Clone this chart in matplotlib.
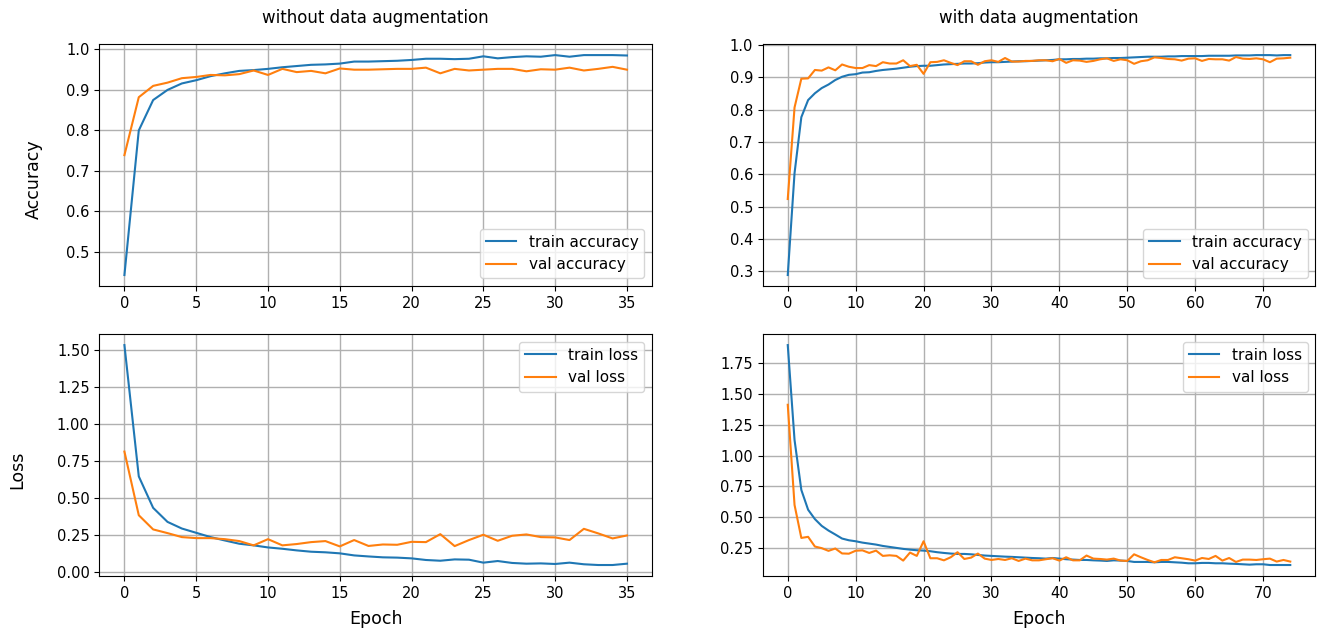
import numpy as np
import matplotlib
matplotlib.use("Agg")
import matplotlib.pyplot as plt

# ---- without augmentation (36 epochs) ----
acc_noaug = [0.443, 0.800, 0.875, 0.900, 0.916, 0.924, 0.934, 0.941, 0.947, 0.949,
             0.952, 0.956, 0.959, 0.962, 0.963, 0.965, 0.970, 0.970, 0.971, 0.972,
             0.974, 0.977, 0.977, 0.976, 0.977, 0.983, 0.978, 0.981, 0.983, 0.982,
             0.986, 0.982, 0.986, 0.986, 0.986, 0.985]
val_acc_noaug = [0.739, 0.882, 0.910, 0.918, 0.929, 0.932, 0.937, 0.936, 0.939, 0.948,
                 0.937, 0.952, 0.944, 0.947, 0.941, 0.953, 0.950, 0.950, 0.951, 0.952,
                 0.952, 0.955, 0.941, 0.952, 0.948, 0.950, 0.952, 0.952, 0.946, 0.951,
                 0.950, 0.955, 0.948, 0.952, 0.957, 0.950]
loss_noaug = [1.536, 0.647, 0.434, 0.339, 0.294, 0.265, 0.236, 0.213, 0.191, 0.180,
              0.166, 0.157, 0.146, 0.137, 0.133, 0.126, 0.112, 0.105, 0.099, 0.097,
              0.092, 0.081, 0.076, 0.085, 0.083, 0.063, 0.074, 0.061, 0.056, 0.058,
              0.054, 0.063, 0.052, 0.047, 0.047, 0.056]
val_loss_noaug = [0.815, 0.384, 0.288, 0.263, 0.236, 0.229, 0.229, 0.222, 0.209, 0.180,
                  0.222, 0.180, 0.189, 0.202, 0.209, 0.173, 0.216, 0.176, 0.186, 0.184,
                  0.204, 0.202, 0.256, 0.175, 0.216, 0.252, 0.211, 0.245, 0.254, 0.236,
                  0.234, 0.216, 0.292, 0.261, 0.227, 0.247]

# ---- with augmentation (75 epochs) ----
acc_aug = [0.289, 0.604, 0.777, 0.830, 0.851, 0.867, 0.878, 0.892, 0.902, 0.908,
           0.910, 0.915, 0.916, 0.920, 0.923, 0.925, 0.927, 0.930, 0.933, 0.935,
           0.936, 0.936, 0.938, 0.940, 0.941, 0.942, 0.943, 0.943, 0.944, 0.946,
           0.947, 0.947, 0.948, 0.949, 0.950, 0.950, 0.951, 0.952, 0.953, 0.954,
           0.956, 0.956, 0.957, 0.957, 0.958, 0.958, 0.959, 0.959, 0.960, 0.960,
           0.961, 0.962, 0.963, 0.964, 0.964, 0.964, 0.965, 0.965, 0.966, 0.966,
           0.966, 0.966, 0.967, 0.967, 0.967, 0.967, 0.968, 0.968, 0.968, 0.969,
           0.969, 0.969, 0.968, 0.969, 0.969]
val_acc_aug = [0.524, 0.807, 0.896, 0.897, 0.923, 0.921, 0.931, 0.922, 0.940, 0.933,
               0.929, 0.929, 0.938, 0.935, 0.947, 0.943, 0.943, 0.953, 0.935, 0.939,
               0.911, 0.947, 0.948, 0.953, 0.945, 0.938, 0.950, 0.950, 0.939, 0.950,
               0.953, 0.948, 0.960, 0.949, 0.949, 0.951, 0.951, 0.953, 0.953, 0.950,
               0.957, 0.945, 0.953, 0.952, 0.948, 0.951, 0.956, 0.959, 0.951, 0.956,
               0.953, 0.942, 0.950, 0.953, 0.962, 0.960, 0.957, 0.956, 0.952, 0.958,
               0.959, 0.951, 0.957, 0.956, 0.956, 0.952, 0.963, 0.958, 0.957, 0.959,
               0.956, 0.947, 0.958, 0.959, 0.961]
loss_aug = [1.898, 1.127, 0.721, 0.560, 0.484, 0.429, 0.391, 0.359, 0.326, 0.312,
            0.304, 0.293, 0.285, 0.277, 0.266, 0.258, 0.250, 0.242, 0.236, 0.231,
            0.228, 0.223, 0.215, 0.209, 0.204, 0.201, 0.201, 0.198, 0.193, 0.188,
            0.185, 0.182, 0.179, 0.177, 0.174, 0.171, 0.168, 0.166, 0.163, 0.168,
            0.163, 0.158, 0.155, 0.152, 0.152, 0.149, 0.147, 0.144, 0.149, 0.147,
            0.144, 0.136, 0.136, 0.136, 0.133, 0.136, 0.136, 0.133, 0.130, 0.125,
            0.125, 0.128, 0.128, 0.125, 0.125, 0.122, 0.120, 0.117, 0.114, 0.117,
            0.117, 0.111, 0.111, 0.111, 0.111]
val_loss_aug = [1.413, 0.599, 0.331, 0.340, 0.261, 0.248, 0.226, 0.245, 0.205, 0.203,
                0.227, 0.230, 0.209, 0.228, 0.185, 0.190, 0.185, 0.147, 0.212, 0.185,
                0.304, 0.166, 0.166, 0.149, 0.174, 0.215, 0.160, 0.171, 0.204, 0.163,
                0.152, 0.160, 0.152, 0.166, 0.144, 0.163, 0.149, 0.149, 0.158, 0.166,
                0.147, 0.174, 0.149, 0.149, 0.188, 0.163, 0.160, 0.155, 0.163, 0.147,
                0.144, 0.198, 0.174, 0.152, 0.133, 0.152, 0.152, 0.174, 0.166, 0.158,
                0.147, 0.168, 0.160, 0.185, 0.147, 0.168, 0.136, 0.155, 0.155, 0.152,
                0.158, 0.163, 0.139, 0.152, 0.139]

titles = ["without data augmentation", "with data augmentation"]

fig = plt.figure(figsize=(13.24, 6.30), dpi=100)
L = [0.075, 0.576]
W = 0.4175
axs = [[fig.add_axes([L[0], 0.546, W, 0.384]), fig.add_axes([L[1], 0.546, W, 0.384])],
       [fig.add_axes([L[0], 0.0857, W, 0.384]), fig.add_axes([L[1], 0.0857, W, 0.384])]]

runs = [(acc_noaug, val_acc_noaug, loss_noaug, val_loss_noaug),
        (acc_aug, val_acc_aug, loss_aug, val_loss_aug)]

for j, (a, va, l, vl) in enumerate(runs):
    ep = np.arange(len(a))
    ax = axs[0][j]
    ax.plot(ep, a, color='tab:blue', label='train accuracy')
    ax.plot(ep, va, color='tab:orange', label='val accuracy')
    ax.legend(loc='lower right', fontsize=11)
    ax.set_title(titles[j], fontsize=12, pad=15)
    ax.grid(True, color='#b0b0b0', linewidth=1)
    ax.tick_params(labelsize=10.5)

    ax = axs[1][j]
    ax.plot(ep, l, color='tab:blue', label='train loss')
    ax.plot(ep, vl, color='tab:orange', label='val loss')
    ax.legend(loc='upper right', fontsize=11)
    ax.set_xlabel('Epoch', fontsize=12.5, labelpad=7)
    ax.grid(True, color='#b0b0b0', linewidth=1)
    ax.tick_params(labelsize=10.5)

axs[0][0].set_ylabel('Accuracy', fontsize=12.5, labelpad=17)
axs[1][0].set_ylabel('Loss', fontsize=12.5, labelpad=22)
axs[0][0].yaxis.label.set_y(0.44)
axs[1][0].yaxis.label.set_y(0.44)
axs[1][0].yaxis.set_major_formatter(matplotlib.ticker.FormatStrFormatter('%.2f'))
axs[1][1].yaxis.set_major_formatter(matplotlib.ticker.FormatStrFormatter('%.2f'))

fig.savefig('out.png', dpi=100)
